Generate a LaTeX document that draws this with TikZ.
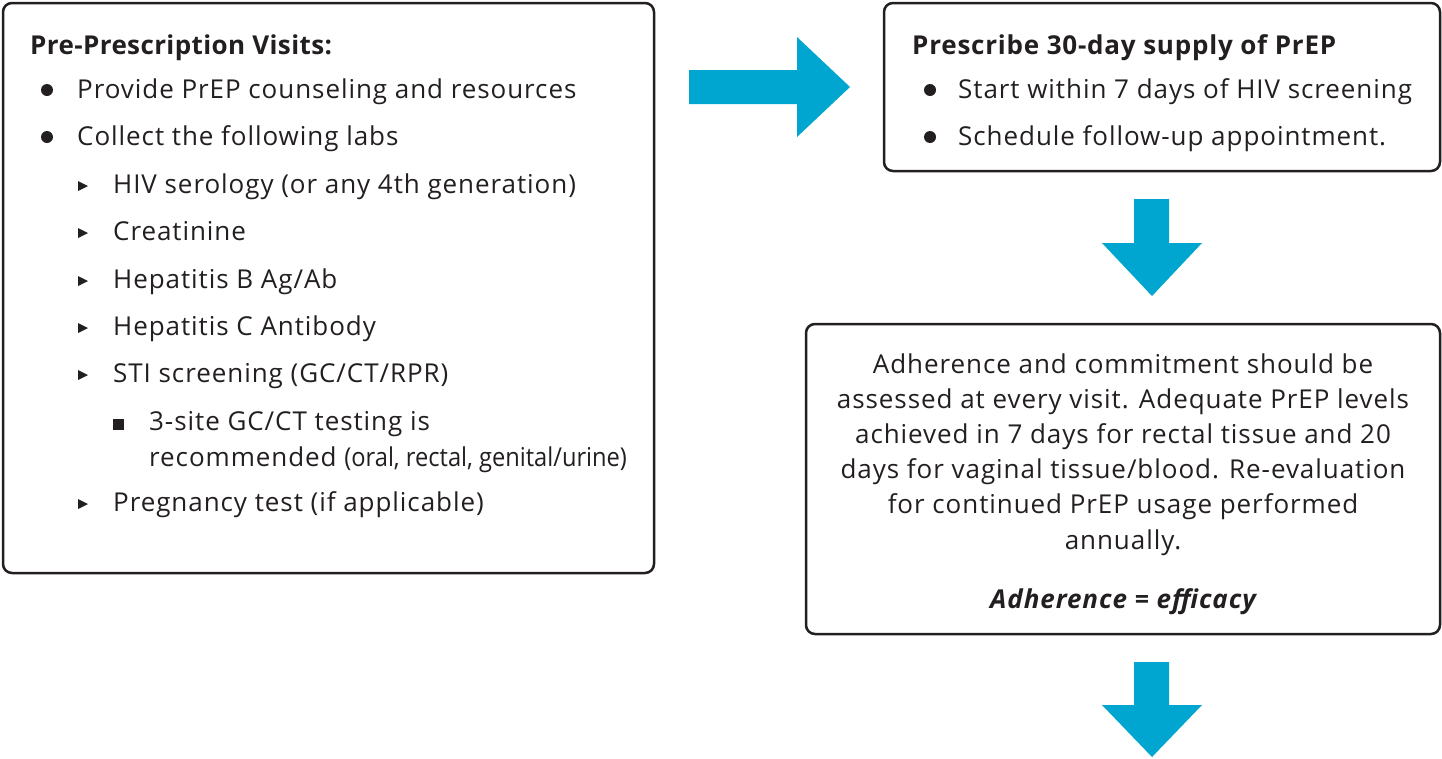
\documentclass[tikz,border=0pt]{standalone}
\usepackage{fontspec}
\setmainfont{Open Sans}
\newfontfamily\regfont[LetterSpace=3.6]{Open Sans}
\newfontfamily\boldfont[LetterSpace=1.5]{Open Sans Bold}
\newfontfamily\boldwfont[LetterSpace=3]{Open Sans Bold}
\newfontfamily\bifont[LetterSpace=3.5]{Open Sans Bold Italic}
\newfontfamily\plainfont{Open Sans}
\definecolor{ink}{HTML}{231F20}
\definecolor{arrowblue}{HTML}{00A6CF}
\begin{document}
\begin{tikzpicture}[x=1pt,y=-1pt,
  box/.style={draw=ink, line width=2.5pt, rounded corners=9pt},
  txt/.style={anchor=base west, inner sep=0pt, text=ink, font=\fontsize{26}{30}\regfont},
  ctxt/.style={anchor=base, inner sep=0pt, text=ink, font=\fontsize{26}{30}\regfont},
  btxt/.style={anchor=base west, inner sep=0pt, text=ink, font=\fontsize{26}{30}\boldfont},
  blt/.style={fill=ink},
  bigarrow/.style={fill=arrowblue}]
\useasboundingbox (0,0) rectangle (1442,758);

% boxes
\draw[box] (3,3) rectangle (654,573);
\draw[box] (884,3) rectangle (1440,171);
\draw[box] (806,324) rectangle (1440,634);

% box 1 text
\node[btxt] (t1) at (30,54) {Pre-Prescription Visits:};
\fill[blt] (47,90) circle (6);
\node[txt] (l1) at (77,98) {Provide PrEP counseling and resources};
\fill[blt] (47,137) circle (6);
\node[txt] (l2) at (77,145) {Collect the following labs};
\foreach \yy/\nm/\tx in {193/l3/{HIV serology (or any 4th generation)},
                          240/l4/{Creatinine},
                          288/l5/{Hepatitis B Ag/Ab},
                          335/l6/{Hepatitis C Antibody},
                          382/l7/{STI screening (GC/CT/RPR)},
                          511/l10/{Pregnancy test (if applicable)}}{
  \fill[blt] (78,\yy-12) -- (88,\yy-7) -- (78,\yy-2) -- cycle;
  \node[txt] (\nm) at (113,\yy) {\tx};
}
\fill[blt] (113,419) rectangle (124,430);
\node[txt] (l8) at (149,430) {3-site GC/CT testing is};
\node[txt] (l9) at (149,466) {recommended {\plainfont\scalebox{0.91}[1]{(oral, rectal, genital/urine)}}};

% box 2 text
\node[btxt, font=\fontsize{26}{30}\boldwfont] (t2) at (912,54) {Prescribe 30-day supply of PrEP};
\fill[blt] (930,90) circle (6);
\node[txt] (m1) at (958,98) {Start within 7 days of HIV screening};
\fill[blt] (930,137) circle (6);
\node[txt] (m2) at (958,145) {Schedule follow-up appointment.};

% box 3 text
\node[ctxt] (n1) at (1123,373) {Adherence and commitment should be};
\node[ctxt] (n2) at (1123,408) {assessed at every visit. Adequate PrEP levels};
\node[ctxt] (n3) at (1123,443) {achieved in 7 days for rectal tissue and 20};
\node[ctxt] (n4) at (1123,478) {days for vaginal tissue/blood. Re-evaluation};
\node[ctxt] (n5) at (1123,513) {for continued PrEP usage performed};
\node[ctxt] (n6) at (1123,549) {annually.};
\node[ctxt, font=\fontsize{26}{30}\bifont] (n7) at (1123,608) {Adherence = efficacy};

% arrows
\fill[bigarrow] (689,70) -- (797,70) -- (797,37) -- (850,87) -- (797,137) -- (797,104) -- (689,104) -- cycle;
\fill[bigarrow] (1134,199) -- (1169,199) -- (1169,243) -- (1202,243) -- (1152,296) -- (1102,243) -- (1134,243) -- cycle;
\fill[bigarrow] (1134,662) -- (1169,662) -- (1169,705) -- (1202,705) -- (1152,757) -- (1102,705) -- (1134,705) -- cycle;
\end{tikzpicture}
\end{document}
